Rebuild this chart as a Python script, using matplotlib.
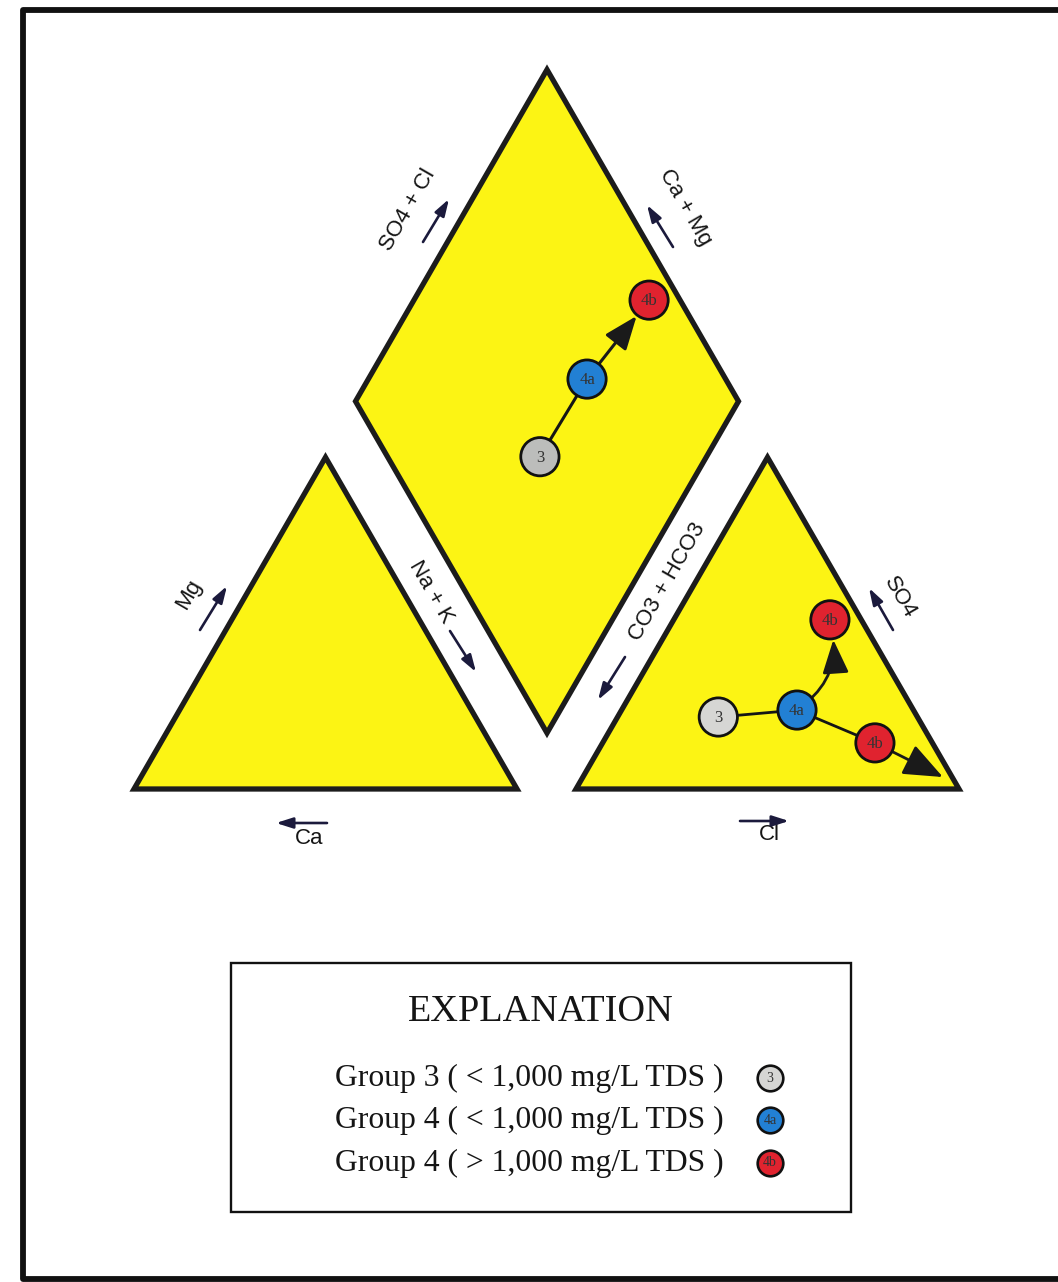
import numpy as np
import matplotlib.pyplot as plt
from matplotlib.patches import Polygon, Rectangle

# anion triangle samples (percent of meq/L)
an_labels = ["3", "4a", "4b", "4b"]
an_cl = [26.3, 45.8, 40.8, 71.1]
an_so4 = [21.7, 23.8, 51.0, 13.9]
an_colors = ["#d6d6d4", "#2280d4", "#e0232f", "#e0232f"]

# end of the trend arrow past the lower 4b sample
trend_cl = 94.0
trend_so4 = 3.6

# diamond samples
dm_labels = ["3", "4a", "4b"]
dm_so4cl = [39.8, 63.8, 91.9]
dm_camg = [43.5, 42.9, 38.6]
dm_colors = ["#bcbdbb", "#2280d4", "#e0232f"]

legend_text = ["Group 3 ( < 1,000 mg/L TDS )",
               "Group 4 ( < 1,000 mg/L TDS )",
               "Group 4 ( > 1,000 mg/L TDS )"]
legend_marks = ["3", "4a", "4b"]
legend_colors = ["#d6d6d4", "#2280d4", "#e0232f"]

# layout (pixels)
SIDE = 383.0
SQ3 = np.sqrt(3) / 2
BASE_Y = 789.0
CAT_X0 = 134.0
AN_X0 = 576.0
DM_X, DM_Y = 547.0, 733.0

YELLOW = "#fcf414"
EDGE = "#1c1c1c"
NAVY = "#1b1a3c"


def tri_xy(x0, a, b):
    # a along base to the right, b up toward apex
    return x0 + SIDE * (a + b / 2) / 100, BASE_Y - SIDE * SQ3 * b / 100


def dm_xy(so4cl, camg):
    x = DM_X + SIDE * 0.5 * (np.asarray(so4cl) - np.asarray(camg)) / 100
    y = DM_Y - SIDE * SQ3 * (np.asarray(so4cl) + np.asarray(camg)) / 100
    return x, y


fig = plt.figure(figsize=(10.58, 12.82), dpi=100)
ax = fig.add_axes([0, 0, 1, 1])
ax.set_xlim(0, 1058)
ax.set_ylim(1282, 0)
ax.axis("off")

# outer frame
ax.plot([1075, 23, 23, 1075], [10, 10, 1279, 1279], color="#111111", lw=4.2)

# triangles and diamond
for x0 in (CAT_X0, AN_X0):
    pts = [tri_xy(x0, 0, 0), tri_xy(x0, 100, 0), tri_xy(x0, 0, 100)]
    ax.add_patch(Polygon(pts, closed=True, fc=YELLOW, ec=EDGE, lw=3.8, joinstyle="miter", zorder=1))
dpts = [dm_xy(0, 0), dm_xy(100, 0), dm_xy(100, 100), dm_xy(0, 100)]
ax.add_patch(Polygon(dpts, closed=True, fc=YELLOW, ec=EDGE, lw=3.8, joinstyle="miter", zorder=1))

sans = ["Liberation Sans", "DejaVu Sans"]
serif = ["Liberation Serif", "DejaVu Serif"]


def axis_label(txt, x, y, rot, a0, a1):
    ax.text(x, y, txt, rotation=rot, rotation_mode="anchor", ha="center", va="center",
            fontsize=16, family=sans, color="#151515")
    ax.annotate("", xy=a1, xytext=a0,
                arrowprops=dict(arrowstyle="-|>,head_length=1.0,head_width=0.32", color=NAVY,
                                lw=1.9, mutation_scale=10, shrinkA=0, shrinkB=0))


axis_label("SO4 + Cl", 408, 210, 60, (423, 242), (449, 199))
axis_label("Ca + Mg", 685, 207, -60, (673, 247), (647, 205))
axis_label("Mg", 189, 594, 60, (200, 630), (227, 586))
axis_label("Na + K", 431, 592, -60, (450, 631), (476, 672))
axis_label("Ca", 309, 838, 0, (327, 823), (276, 823))
axis_label("Cl", 769, 835, 0, (740, 821), (789, 821))
axis_label("CO3 + HCO3", 667, 582, 60, (625, 657), (598, 700))
axis_label("SO4", 900, 598, -60, (893, 630), (869, 588))

# anion triangle paths
ax_, ay_ = tri_xy(AN_X0, np.array(an_cl), np.array(an_so4))
ax.plot([ax_[0], ax_[1]], [ay_[0], ay_[1]], color="#151515", lw=2.0, zorder=2)
ax.plot([ax_[1], ax_[3]], [ay_[1], ay_[3]], color="#151515", lw=2.0, zorder=2)
ax.annotate("", xy=(ax_[2], ay_[2]), xytext=(ax_[1], ay_[1]),
            arrowprops=dict(arrowstyle="-|>,head_length=1.15,head_width=0.45", color="#1a1a1a",
                            lw=2.0, mutation_scale=18, shrinkA=0, shrinkB=14.5,
                            connectionstyle="arc3,rad=0.35"), zorder=2)
tx, ty = tri_xy(AN_X0, trend_cl, trend_so4)
ax.annotate("", xy=(tx, ty), xytext=(ax_[3], ay_[3]),
            arrowprops=dict(arrowstyle="-|>,head_length=1.35,head_width=0.55", color="#1a1a1a",
                            lw=2.0, mutation_scale=18, shrinkA=12, shrinkB=0), zorder=2)

# diamond paths
dx_, dy_ = dm_xy(dm_so4cl, dm_camg)
ax.plot([dx_[0], dx_[1]], [dy_[0], dy_[1]], color="#151515", lw=2.2, zorder=2)
ax.annotate("", xy=(dx_[2], dy_[2]), xytext=(dx_[1], dy_[1]),
            arrowprops=dict(arrowstyle="-|>,head_length=1.15,head_width=0.45", color="#1a1a1a",
                            lw=2.2, mutation_scale=18, shrinkA=0, shrinkB=14.5), zorder=2)

# sample circles
for xs, ys, labs, cols in ((ax_, ay_, an_labels, an_colors), (dx_, dy_, dm_labels, dm_colors)):
    ax.scatter(xs, ys, s=760, c=cols, edgecolors="#111111", linewidths=2.0, zorder=4)
    for x, y, t in zip(xs, ys, labs):
        ax.text(x, y + 1, t, ha="center", va="center", fontsize=12, family=serif,
                color="#333333", zorder=5)

# explanation box
ax.add_patch(Rectangle((231, 963), 620, 249, fill=False, ec="#111111", lw=1.7))
ax.text(541, 1012, "EXPLANATION", ha="center", va="center", fontsize=27.5, family=serif,
        color="#151515")
rows_y = [1078, 1120, 1163]
for y, t, m, c in zip(rows_y, legend_text, legend_marks, legend_colors):
    ax.text(335, y, t, ha="left", va="center", fontsize=22.8, family=serif, color="#151515")
    ax.scatter([770], [y], s=340, c=c, edgecolors="#111111", linewidths=1.9, zorder=4)
    ax.text(770, y, m, ha="center", va="center", fontsize=10, family=serif,
            color="#333333", zorder=5)

fig.savefig("out.png", dpi=100)
